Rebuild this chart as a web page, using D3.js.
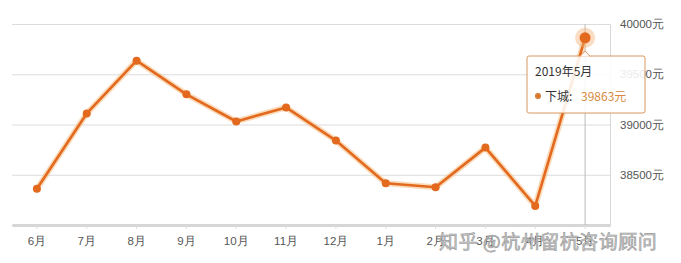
<!DOCTYPE html>
<html>
<head>
<meta charset="utf-8">
<script src="https://cdn.jsdelivr.net/npm/d3@7"></script>
<style>
  html, body { margin: 0; padding: 0; background: #fff; }
  svg { display: block; font-family: "Noto Sans CJK SC", "Noto Sans", sans-serif; }
</style>
</head>
<body>
<div id="content"></div>
<script>
// month labels and prices (下城, 元/m²)
var months = ['6月', '7月', '8月', '9月', '10月', '11月', '12月', '1月', '2月', '3月', '4月', '5月'];
var prices = [38360, 39110, 39635, 39300, 39030, 39170, 38840, 38415, 38375, 38770, 38190, 39863];
var yTicks = [38500, 39000, 39500, 40000];
var seriesName = '下城';
var tipTitle = '2019年5月';
var watermark = '知乎 @杭州留杭咨询顾问';

var width = 681,
    height = 263,
    plotLeft = 12, plotRight = 610, plotTop = 24, plotBottom = 225,
    lineColor = '#e2691d';

var svg = d3.select('#content').append('svg')
    .attr('width', width)
    .attr('height', height);

var x = d3.scaleBand().domain(months).range([plotLeft, plotRight]);
var y = d3.scaleLinear().domain([38000, 40000]).range([plotBottom, plotTop]);
var cx = function(d, i) { return x(months[i]) + x.bandwidth() / 2; };

// horizontal grid + right side labels
var yAxis = d3.axisRight(y)
    .tickValues(yTicks)
    .tickSize(-(plotRight - plotLeft))
    .tickFormat(function(d) { return d + '元'; });

var gy = svg.append('g')
    .attr('transform', 'translate(' + plotRight + ',0)')
    .call(yAxis);
gy.select('.domain').attr('stroke', '#d8d8d8').attr('stroke-width', 1);
gy.selectAll('.tick line').attr('stroke', '#dcdcdc');
gy.selectAll('.tick text')
    .attr('x', 10)
    .attr('fill', '#555')
    .style('font-size', '11.5px');

// bottom axis
var xAxis = d3.axisBottom(x).tickSize(4).tickPadding(8).tickSizeOuter(0);
var gx = svg.append('g')
    .attr('transform', 'translate(0,' + plotBottom + ')')
    .call(xAxis);
gx.select('.domain').attr('stroke', '#d6d6d6').attr('stroke-width', 3);
gx.selectAll('.tick line').attr('stroke', '#ddd');
gx.selectAll('.tick text')
    .attr('fill', '#555')
    .style('font-size', '11.5px');

// crosshair at the hovered month
var last = months.length - 1;
svg.append('line')
    .attr('x1', cx(null, last)).attr('x2', cx(null, last))
    .attr('y1', plotTop).attr('y2', plotBottom)
    .attr('stroke', '#bbb').attr('stroke-width', 1);

var line = d3.line()
    .x(function(d, i) { return cx(d, i); })
    .y(function(d) { return y(d); });

// soft glow under the line
svg.append('path')
    .datum(prices)
    .attr('d', line)
    .attr('fill', 'none')
    .attr('stroke', '#f6c48f')
    .attr('stroke-opacity', 0.6)
    .attr('stroke-width', 6)
    .attr('stroke-linejoin', 'round');

svg.append('path')
    .datum(prices)
    .attr('d', line)
    .attr('fill', 'none')
    .attr('stroke', lineColor)
    .attr('stroke-width', 2.6)
    .attr('stroke-linejoin', 'round');

svg.selectAll('circle.pt')
    .data(prices)
    .enter()
    .append('circle')
    .attr('class', 'pt')
    .attr('cx', cx)
    .attr('cy', function(d) { return y(d); })
    .attr('r', function(d, i) { return i === last ? 0 : 4; })
    .attr('fill', lineColor);

// highlighted point
svg.append('circle')
    .attr('cx', cx(null, last)).attr('cy', y(prices[last]))
    .attr('r', 10).attr('fill', '#f3b27a').attr('fill-opacity', 0.45);
svg.append('circle')
    .attr('cx', cx(null, last)).attr('cy', y(prices[last]))
    .attr('r', 5.5).attr('fill', lineColor);

// watermark
svg.append('text')
    .attr('x', 439).attr('y', 249)
    .attr('fill', '#c8c8c8')
    .attr('stroke', '#9a9a9a')
    .attr('stroke-width', 0.6)
    .style('font-size', '19px')
    .style('letter-spacing', '0.5px')
    .text(watermark);

// tooltip
var tx = 527, ty = 56, tw = 118, th = 57;
var tip = svg.append('g');
tip.append('rect')
    .attr('x', tx).attr('y', ty)
    .attr('width', tw).attr('height', th)
    .attr('rx', 2)
    .attr('fill', '#fff').attr('fill-opacity', 0.88)
    .attr('stroke', '#d9965c').attr('stroke-width', 1);
var ax = cx(null, last);
tip.append('path')
    .attr('d', 'M' + (ax - 5) + ',' + (ty + 0.5) + 'L' + ax + ',' + (ty - 5) + 'L' + (ax + 5) + ',' + (ty + 0.5))
    .attr('fill', '#fff')
    .attr('stroke', '#d9965c');
tip.append('text')
    .attr('x', tx + 8).attr('y', ty + 20)
    .attr('fill', '#333')
    .style('font-size', '12px')
    .text(tipTitle);
tip.append('circle')
    .attr('cx', tx + 11).attr('cy', ty + 40)
    .attr('r', 3).attr('fill', '#d77a2e');
tip.append('text')
    .attr('x', tx + 18).attr('y', ty + 45)
    .attr('fill', '#333')
    .style('font-size', '12px')
    .text(seriesName + ':');
tip.append('text')
    .attr('x', tx + 54).attr('y', ty + 45)
    .attr('fill', '#d88a40')
    .style('font-size', '12px')
    .text(prices[last] + '元');
</script>
</body>
</html>
